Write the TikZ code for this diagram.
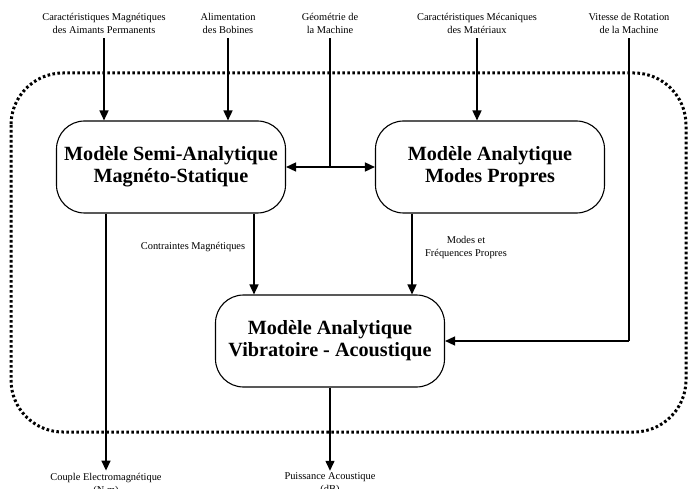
\documentclass[tikz,border=0pt]{standalone}
\usepackage{fontspec}
\setmainfont{Liberation Serif}
\usetikzlibrary{arrows.meta}
\tikzset{
  modele/.style={draw, rounded corners=28pt, line width=1.1pt, minimum width=229pt,
    minimum height=92pt, align=center, font=\fontsize{20.2}{22}\selectfont\bfseries},
  donnee/.style={align=center, font=\fontsize{10.4}{13}\selectfont, inner sep=2pt},
  trait/.style={line width=1.5pt},
  fleche/.style={trait, -{Triangle[length=10pt,width=9pt]}},
}

\begin{document}
\begin{tikzpicture}[x=1pt,y=-1pt]
\useasboundingbox (0,0) rectangle (688,489);

% cadre pointille
\draw[line width=3pt, dash pattern=on 2.6pt off 2.4pt, rounded corners=52pt] (11,73) rectangle (686,432);

% modeles
\node[modele] (semi) at (171,167) {Modèle Semi-Analytique\\Magnéto-Statique};
\node[modele] (propres) at (490,167) {Modèle Analytique\\Modes Propres};
\node[modele] (vibro) at (330,341) {Modèle Analytique\\Vibratoire - Acoustique};

% donnees d'entree
\node[donnee] (aimants) at (104,23) {Caractéristiques Magnétiques\\des Aimants Permanents};
\node[donnee] (bobines) at (228,23) {Alimentation\\des Bobines};
\node[donnee] (geometrie) at (330,23) {Géométrie de\\la Machine};
\node[donnee] (materiaux) at (477,23) {Caractéristiques Mécaniques\\des Matériaux};
\node[donnee] (vitesse) at (629,23) {Vitesse de Rotation\\de la Machine};

% grandeurs intermediaires et sorties
\node[donnee] (contraintes) at (193,247) {Contraintes Magnétiques};
\node[donnee] (modes) at (466,247) {Modes et\\Fréquences Propres};
\node[donnee] (couple) at (106,484) {Couple Electromagnétique\\(N.m)};
\node[donnee] (puissance) at (330,484) {Puissance Acoustique\\(dB)};

% entrees
\draw[fleche, shorten <=3pt] (aimants.south) -- (aimants.south |- semi.north);
\draw[fleche, shorten <=3pt] (bobines.south) -- (bobines.south |- semi.north);
\draw[trait, shorten <=3pt] (geometrie.south) -- (geometrie.south |- semi.east) coordinate (geoJ);
\draw[fleche] (geoJ) -- (semi.east);
\draw[fleche] (geoJ) -- (propres.west);
\draw[fleche, shorten <=3pt] (materiaux.south) -- (materiaux.south |- propres.north);
\draw[trait, shorten <=3pt] (vitesse.south) -- (vitesse.south |- vibro.east) coordinate (vitJ);
\draw[fleche] (vitJ) -- (vibro.east);

% liaisons et sorties
\draw[fleche] ([xshift=83pt]semi.south) -- ([xshift=83pt]semi.south |- vibro.north);
\draw[fleche] ([xshift=-78pt]propres.south) -- ([xshift=-78pt]propres.south |- vibro.north);
\draw[fleche] (semi.south -| couple.north) -- (couple.north);
\draw[fleche] (vibro.south) -- (puissance.north);

\end{tikzpicture}
\end{document}
